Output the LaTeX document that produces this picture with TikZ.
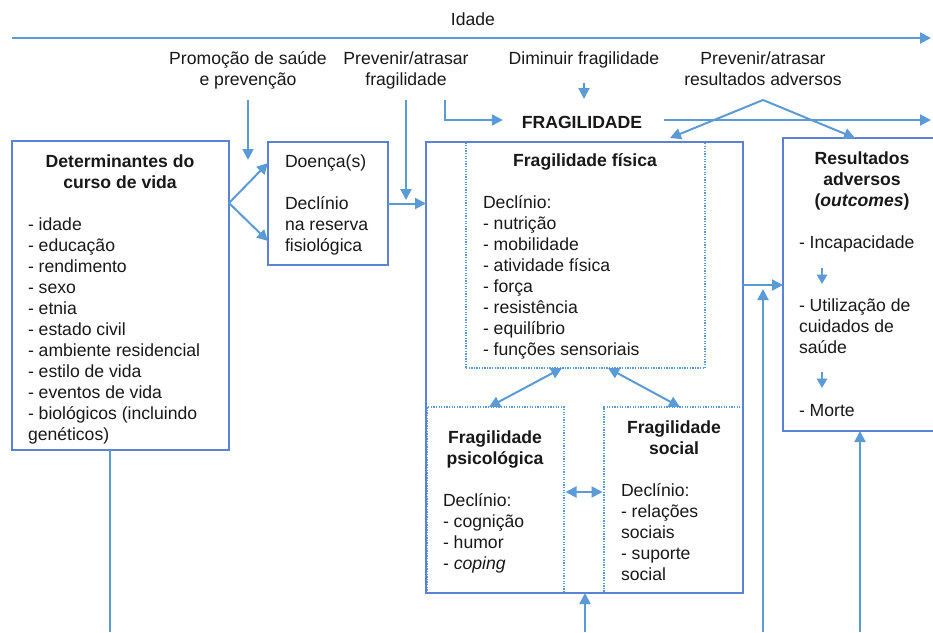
\documentclass[tikz,border=0pt]{standalone}
\usepackage{fontspec}
\setmainfont{Liberation Sans}
\usetikzlibrary{arrows.meta,calc}
\definecolor{arr}{RGB}{91,155,213}
\definecolor{bxc}{RGB}{92,130,214}
\definecolor{ink}{RGB}{24,24,24}
\newcommand{\bodyf}{\fontsize{17.6}{21}\selectfont}
\begin{document}
\begin{tikzpicture}[x=1pt,y=-1pt,
 txt/.style={inner sep=0pt, outer sep=0pt, text=ink, font=\bodyf, align=left, anchor=north west},
 ctxt/.style={txt, align=center, anchor=north},
 btxt/.style={ctxt, font=\bodyf\bfseries},
 box/.style={draw=bxc, line width=2.2pt, anchor=north west, inner sep=0pt, outer sep=0pt},
 dbox/.style={draw=arr, line width=1.3pt, dash pattern=on 1.3pt off 1.3pt, anchor=north west, inner sep=0pt, outer sep=0pt},
 conn/.style={draw=arr, line width=2pt},
 arrowc/.style={conn, -{Triangle[length=11pt,width=11pt]}},
 darrow/.style={conn, {Triangle[length=11pt,width=11pt]}-{Triangle[length=11pt,width=11pt]}},
 small/.style={conn, -{Triangle[length=9.5pt,width=10.5pt]}}
]
\useasboundingbox (0,0) rectangle (933,632);
\clip (0,0) rectangle (933,632);

% top labels
\node[ctxt] (idade) at (473,10.3) {\strut Idade};
\node[ctxt] (prom) at (248,49.3) {\strut Promoção de saúde\\e prevenção};
\node[ctxt] (prevf) at (406,49.3) {\strut Prevenir/atrasar\\fragilidade};
\node[ctxt] (dimin) at (584,49.3) {\strut Diminuir fragilidade};
\node[ctxt] (prevr) at (763,49.3) {\strut Prevenir/atrasar\\resultados adversos};
\node[btxt] (fragt) at (582,113.3) {\strut FRAGILIDADE};

% boxes
\node[box, minimum width=217, minimum height=309] (det) at (12,141) {};
\node[box, minimum width=120, minimum height=123] (doenca) at (268,142) {};
\node[dbox, minimum width=239, minimum height=226] (phys) at (466,142) {};
\node[dbox, minimum width=137, minimum height=186] (psy) at (427,407) {};
\node[dbox, minimum width=139, minimum height=186] (soc) at (604,407) {};
\node[box, minimum width=317, minimum height=451] (big) at (426,142) {};
\node[box, minimum width=170, minimum height=293] (res) at (783,138) {};

% box texts
\node[btxt] (dett) at (120,152.3) {\strut Determinantes do\\curso de vida};
\node[txt] (detl) at (28,215.3) {\strut - idade\\- educação\\- rendimento\\- sexo\\- etnia\\- estado civil\\- ambiente residencial\\- estilo de vida\\- eventos de vida\\- biológicos (incluindo\\genéticos)};
\node[txt] (doent) at (285,152.3) {\strut Doença(s)\\[21pt]Declínio\\na reserva\\fisiológica};
\node[btxt] (physt) at (585,151.3) {\strut Fragilidade física};
\node[txt] (physl) at (483,193.3) {\strut Declínio:\\- nutrição\\- mobilidade\\- atividade física\\- força\\- resistência\\- equilíbrio\\- funções sensoriais};
\node[btxt] (psyt) at (495,428.3) {\strut Fragilidade\\psicológica};
\node[txt] (psyl) at (443,491.3) {\strut Declínio:\\- cognição\\- humor\\- \textit{coping}};
\node[btxt] (soct) at (674,418.3) {\strut Fragilidade\\social};
\node[txt] (socl) at (621,481.3) {\strut Declínio:\\- relações\\sociais\\- suporte\\social};
\node[btxt] (rest) at (862,149.3) {\strut Resultados\\adversos\\(\textit{outcomes})};
\node[txt] (resl) at (799,233.3) {\strut - Incapacidade\\[42pt]- Utilização de\\cuidados de\\saúde\\[42pt]- Morte};

% coordinates for free ends
\coordinate (idL) at (12,38);
\coordinate (idR) at (931,38);
\coordinate (promA) at (248,100);
\coordinate (promB) at (248,160);
\coordinate (pfA) at (406,100);
\coordinate (pfB) at (406,200);
\coordinate (pfC) at (445,100);
\coordinate (dmA) at (584,83);
\coordinate (dmB) at (584,99);
\coordinate (frR) at (931,120);
\coordinate (prA) at (763,100);
\coordinate (br) at (229,203);
\coordinate (detB) at (110,632);
\coordinate (bB) at (585,632);
\coordinate (vB) at (763,632);
\coordinate (vT) at (763,289);
\coordinate (rB) at (860,632);
\coordinate (s1a) at (822,268);
\coordinate (s1b) at (822,284);
\coordinate (s2a) at (822,372);
\coordinate (s2b) at (822,388);

% connectors
\draw[arrowc] (idL) -- (idR);
\draw[arrowc] (promA) -- (promB);
\draw[arrowc] (pfA) -- (pfB);
\draw[arrowc, shorten >=19pt] (pfC) |- (fragt.west |- frR);
\draw[arrowc] (dmA) -- (dmB);
\draw[arrowc, shorten <=22pt] (fragt.east |- frR) -- (frR);
\draw[arrowc] (prA) -- ($(big.north west)+(244,-4)$);
\draw[arrowc] (prA) -- ($(res.north west)+(72,0)$);
\draw[arrowc] (br) -- ($(doenca.north west)+(0,21)$);
\draw[arrowc] (br) -- ($(doenca.north west)+(0,99)$);
\draw[arrowc] (doenca.east) -- (doenca.east -| big.west);
\draw[conn] (detB |- det.south) -- (detB);
\draw[darrow] ($(phys.south west)+(96,0)$) -- ($(psy.north west)+(62,0)$);
\draw[darrow] ($(phys.south west)+(142,0)$) -- ($(soc.north west)+(76,0)$);
\draw[darrow] ($(psy.north east)+(1.5,85)$) -- ($(soc.north west)+(-1.5,85)$);
\draw[arrowc] (bB) -- (bB |- big.south);
\draw[arrowc] ($(big.north east)+(0,143)$) -- ($(res.north west)+(0,147)$);
\draw[arrowc] (vB) -- (vT);
\draw[arrowc] (rB) -- (rB |- res.south);
\draw[small] (s1a) -- (s1b);
\draw[small] (s2a) -- (s2b);
\end{tikzpicture}
\end{document}
